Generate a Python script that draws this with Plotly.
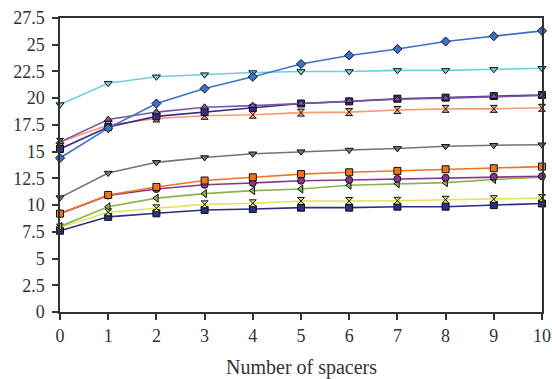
import plotly.graph_objects as go

spacers = [0, 1, 2, 3, 4, 5, 6, 7, 8, 9, 10]

s_blue = [14.4, 17.2, 19.5, 20.9, 22.0, 23.2, 24.0, 24.6, 25.3, 25.8, 26.3]
s_cyan = [19.4, 21.4, 22.0, 22.2, 22.4, 22.5, 22.5, 22.6, 22.6, 22.7, 22.8]
s_purple_tri = [15.9, 18.0, 18.7, 19.15, 19.3, 19.5, 19.75, 19.9, 20.0, 20.15, 20.25]
s_indigo = [15.25, 17.3, 18.3, 18.7, 19.1, 19.5, 19.7, 19.95, 20.05, 20.2, 20.3]
s_salmon = [15.9, 17.5, 18.1, 18.35, 18.45, 18.65, 18.7, 18.9, 19.0, 19.0, 19.1]
s_gray = [10.7, 13.0, 14.0, 14.45, 14.8, 15.0, 15.15, 15.3, 15.5, 15.6, 15.65]
s_orange = [9.2, 10.95, 11.7, 12.3, 12.6, 12.9, 13.07, 13.2, 13.35, 13.45, 13.6]
s_purple_circ = [9.2, 10.9, 11.5, 11.9, 12.07, 12.28, 12.35, 12.45, 12.55, 12.65, 12.7]
s_green = [8.0, 9.85, 10.65, 11.07, 11.35, 11.5, 11.85, 12.0, 12.1, 12.4, 12.6]
s_yellow = [7.9, 9.33, 9.7, 10.07, 10.17, 10.38, 10.38, 10.4, 10.5, 10.55, 10.65]
s_navy = [7.6, 8.9, 9.23, 9.54, 9.63, 9.76, 9.76, 9.85, 9.85, 10.0, 10.15]

y_ticks = [0, 2.5, 5, 7.5, 10, 12.5, 15, 17.5, 20, 22.5, 25, 27.5]
y_tick_labels = ["0", "2.5", "5", "7.5", "10", "12.5", "15", "17.5", "20", "22.5", "25", "27.5"]
x_ticks = spacers
x_title = "Number of spacers"

series = [
    (s_navy, "#2a2e85", "square"),
    (s_yellow, "#e3e25a", "hourglass"),
    (s_green, "#86b552", "triangle-left"),
    (s_purple_circ, "#8a3590", "circle"),
    (s_orange, "#f07522", "square"),
    (s_gray, "#737373", "triangle-down"),
    (s_salmon, "#f89a70", "hourglass"),
    (s_indigo, "#3b2c88", "square"),
    (s_purple_tri, "#7b55a8", "triangle-up"),
    (s_cyan, "#6ccfe0", "triangle-down"),
    (s_blue, "#3a72c8", "diamond"),
]

fig = go.Figure()
for ys, col, sym in series:
    fig.add_trace(go.Scatter(
        x=spacers, y=ys, mode="lines+markers",
        line=dict(color=col, width=1.6),
        marker=dict(symbol=sym, size=7, color=col, line=dict(color="#111", width=1)),
        cliponaxis=False, showlegend=False,
    ))

font = "Liberation Serif, Times New Roman, serif"
fig.update_layout(
    width=552, height=379,
    margin=dict(l=60, r=10, t=18, b=67),
    plot_bgcolor="white", paper_bgcolor="white",
    font=dict(family=font, size=18, color="#333"),
    annotations=[dict(
        text=x_title, xref="paper", yref="paper", x=0.5, y=-0.19,
        xanchor="center", yanchor="middle", showarrow=False,
        font=dict(family=font, size=20, color="#333"),
    )],
)
fig.update_xaxes(
    range=[0, 10], tickvals=x_ticks, ticktext=[str(v) for v in x_ticks],
    showgrid=False, zeroline=False, automargin=False,
    showline=True, linecolor="#333", linewidth=1.5, mirror=True,
    ticks="outside", ticklen=6, tickcolor="#333", tickwidth=1.5,
    ticklabelstandoff=1,
)
fig.update_yaxes(
    range=[0, 27.5], tickvals=y_ticks, ticktext=y_tick_labels,
    showgrid=False, zeroline=False, automargin=False,
    showline=True, linecolor="#333", linewidth=1.5, mirror=True,
    ticks="outside", ticklen=6, tickcolor="#333", tickwidth=1.5,
    ticklabelstandoff=4,
)
fig.write_html(
    "out.html",
    config={"displayModeBar": False},
    post_script="document.body.style.margin='0';document.body.style.overflow='hidden';",
)
